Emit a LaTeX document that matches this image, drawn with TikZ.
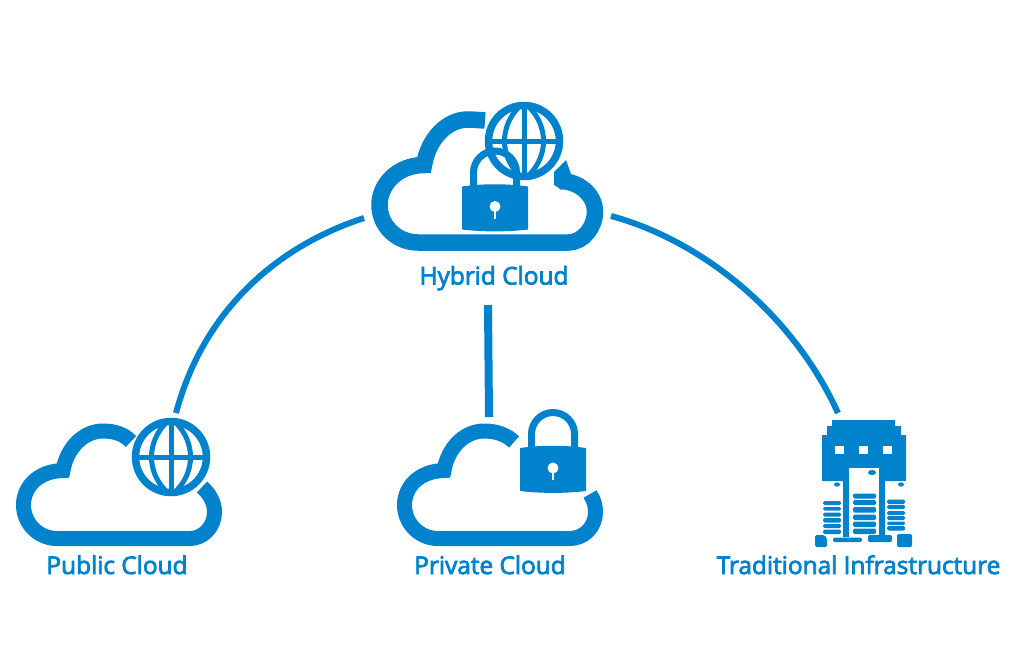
\documentclass[tikz,border=0pt]{standalone}
\usepackage{fontspec}
\setmainfont{Open Sans}
\definecolor{cloudblue}{RGB}{0,130,205}
\newcommand{\heavytext}[1]{\special{pdf:code 2 Tr 0.75 w}#1\special{pdf:code 0 Tr 1 w}}
\tikzset{
  outline/.style={draw=cloudblue,line width=#1,line join=miter,miter limit=10,fill=none},
  link/.style={draw=cloudblue,line width=6pt},
  solid fillblue/.style={fill=cloudblue,draw=none},
  cutout/.style={fill=white,draw=none},
  label/.style={text=cloudblue,font=\fontsize{24.4}{28}\selectfont,anchor=base,inner sep=0pt},
  pics/globe/.style={code={
    \draw[outline=7.5pt] (0,0) circle (35.5pt);
    \draw[outline=5pt] (-35,0) -- (35,0);
    \draw[outline=5pt] (0,-35) -- (0,35);
    \draw[outline=5pt] (-6,-33) .. controls (-24,-14) and (-24,14) .. (-6,33);
    \draw[outline=5pt] (6,-33) .. controls (24,-14) and (24,14) .. (6,33);
  }},
  pics/padlock/.style={code={
    \draw[outline=7pt] (-21.5,-20) -- (-21.5,-35) arc[start angle=180,end angle=0,radius=21.5pt] -- (21.5,-20);
    \fill[solid fillblue] (-33,-21) .. controls (-12,-24) and (12,-24) .. (33,-21) -- (33,22) .. controls (12,24.5) and (-12,24.5) .. (-33,22) -- cycle;
    \fill[cutout] (0,-1) circle (5.5pt);
    \fill[cutout] (-1.1,2) rectangle (1.1,11);
  }},
}
\begin{document}
\begin{tikzpicture}[x=1pt,y=-1pt]
\useasboundingbox[fill=white] (0,0) rectangle (1024,665);

% named connector ends
\coordinate (hybridL) at (364,218);
\coordinate (hybridB) at (488,305);
\coordinate (hybridR) at (611,216);
\coordinate (publicT) at (176,413);
\coordinate (privateT) at (489,417);
\coordinate (infraT) at (838,413);

\draw[link] (hybridL) .. controls (275,247) and (203,312) .. (publicT);
\draw[link,line width=8pt] (hybridB) -- (privateT);
\draw[link] (hybridR) .. controls (700,240) and (792,312) .. (infraT);

% Hybrid cloud
\draw[outline=16.5pt] (485,120.5) .. controls (478,120) and (472,119.5) .. (468,119.5)
  .. controls (446,119.5) and (428,140) .. (424,165)
  .. controls (398,165) and (379.5,184) .. (379.5,205)
  .. controls (379.5,226) and (397,242.5) .. (418,242.5) -- (568,242.5)
  .. controls (584,242.5) and (595,226) .. (595,212)
  .. controls (595,194) and (578,181) .. (560,181);
\fill[solid fillblue] (566,160) -- (571,174) -- (562,190) -- (554,185) -- (554,172) -- cycle;
\pic at (524,141) {globe};
\pic at (495,207.5) {padlock};
\node[label] (hybridText) at (494,284.5) {\heavytext{Hybrid Cloud}};

% Public cloud
\draw[outline=15pt] (131,441.5) .. controls (124,434) and (114,431) .. (103,431)
  .. controls (84,431) and (67,447) .. (63,470.5)
  .. controls (38,471) and (23.5,487) .. (23.5,505)
  .. controls (23.5,523) and (38,538.5) .. (57,538.5) -- (190,538.5)
  .. controls (203,538.5) and (214.5,527) .. (214.5,512)
  .. controls (214.5,503) and (210,494) .. (202,487);
\pic at (171,457) {globe};
\node[label] (publicText) at (117,574) {\heavytext{Public Cloud}};

% Private cloud
\draw[outline=15pt] (514,442) .. controls (507,435) and (497,431) .. (484,431)
  .. controls (465,431) and (448,447) .. (444,470.5)
  .. controls (419,471) and (404.5,487) .. (404.5,505)
  .. controls (404.5,523) and (419,538.5) .. (438,538.5) -- (570,538.5)
  .. controls (584,538.5) and (595.5,527) .. (595.5,512)
  .. controls (595.5,506) and (594,500) .. (590,494);
\pic at (553,469) {padlock};
\node[label] (privateText) at (490,574) {\heavytext{Private Cloud}};

% Traditional infrastructure
\fill[solid fillblue] (832,420) -- (895,420) -- (895,426) -- (901,426) -- (901,435) -- (906,435) -- (906,481)
  -- (885,481) -- (885,537) -- (843,537) -- (843,481) -- (822,481) -- (822,435) -- (827,435) -- (827,426) -- (832,426) -- cycle;
\fill[cutout] (849,468) rectangle (879,540);
\fill[cutout] (835,446) rectangle (844,454);
\fill[cutout] (859,446) rectangle (868,454);
\fill[cutout] (883,446) rectangle (892,454);
\fill[solid fillblue,rounded corners=2pt] (833,537.5) rectangle (862,542);
\fill[solid fillblue,rounded corners=2pt] (868,535) rectangle (892,542);
\fill[solid fillblue] (872,472.5) ellipse (4pt and 2.6pt);
\fill[solid fillblue] (837,484.5) ellipse (3pt and 2.2pt);
\fill[solid fillblue] (901,484.5) ellipse (3pt and 2.2pt);
\foreach \ya/\yb in {493.5/498.5,500/505,507/512.5,514.5/520,521.5/527,528.5/534}
  \fill[solid fillblue,rounded corners=1.5pt] (853,\ya) rectangle (876,\yb);
\foreach \ya/\yb in {501/505,507/510.5,512.5/516.5,518/522.5,524/528,529.5/534}
  \fill[solid fillblue,rounded corners=1.5pt] (823,\ya) rectangle (841,\yb);
\foreach \ya/\yb in {499.5/504,505/509,511/515,516/520,521.5/525,526/530.5}
  \fill[solid fillblue,rounded corners=1.5pt] (887,\ya) rectangle (905,\yb);
\fill[solid fillblue,rounded corners=1.5pt] (815,535) -- (824,535) -- (827,538) -- (827,547) -- (815,547) -- cycle;
\fill[solid fillblue,rounded corners=1.5pt] (897,534) -- (912,534) -- (912,547) -- (897,547) -- cycle;
\node[label] (infraText) at (858.5,574) {\heavytext{Traditional Infrastructure}};
\end{tikzpicture}
\end{document}
